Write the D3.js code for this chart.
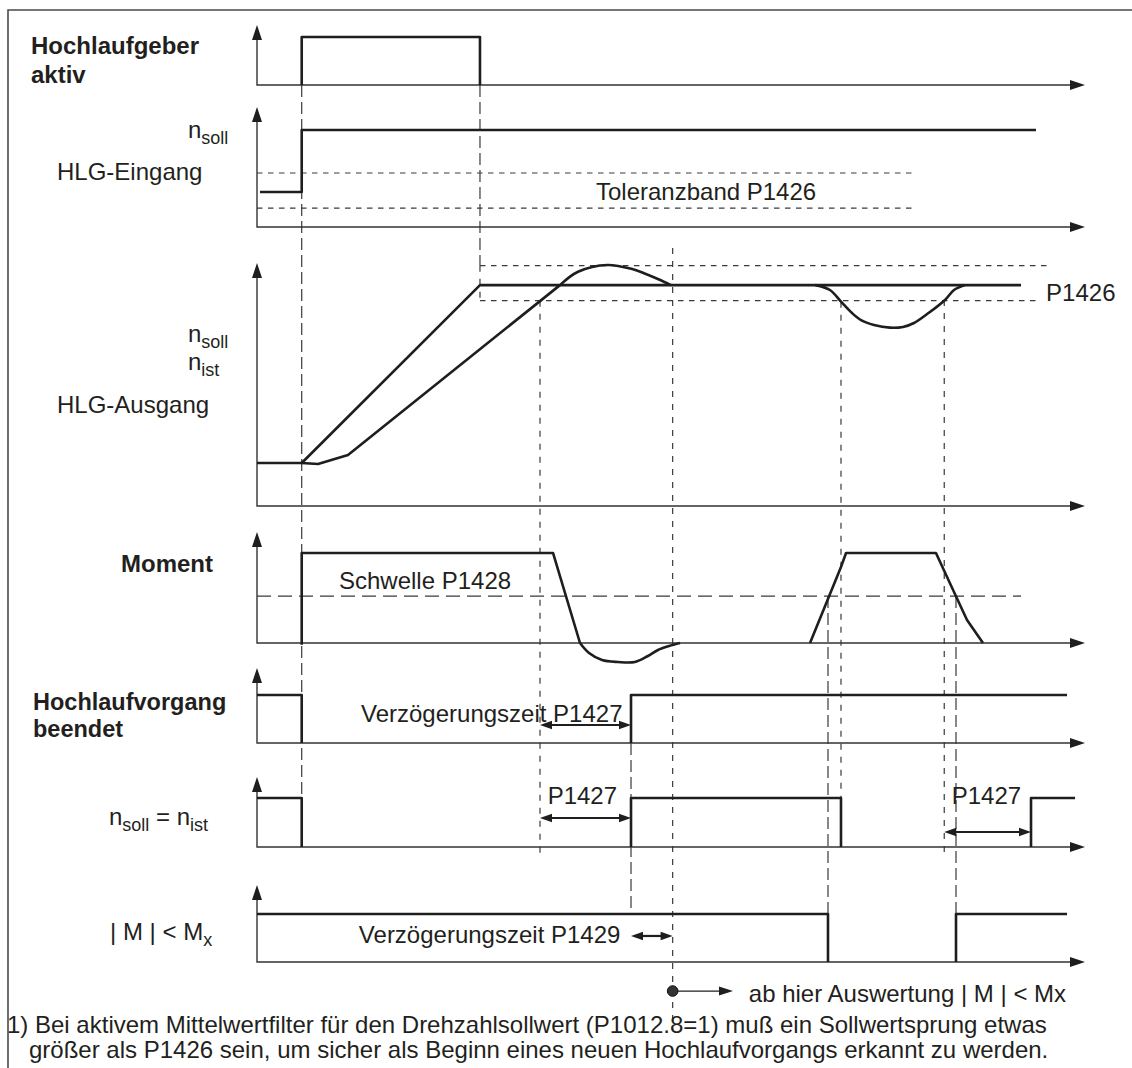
<!DOCTYPE html>
<html><head><meta charset="utf-8">
<script src="https://cdn.jsdelivr.net/npm/d3@7"></script>
<style>
body{margin:0;background:#fff}
text{font-family:"Liberation Sans",Arial,Helvetica,sans-serif;fill:#231f20}
</style>
</head><body>
<svg id="c" width="1132" height="1068" xmlns="http://www.w3.org/2000/svg"></svg>
<script>
// ---------------- DATA (time axis 0..100, each panel level 0..100) ----------------
const timeDomain = [0, 100];
const levelDomain = [0, 100];

// Panel 0: Hochlaufgeber aktiv
const aktivHigh = 80;
const aktivPulses = [{on: 5.4, off: 26.93, open: false}];

// Panel 1: HLG-Eingang (n_soll)
const eingangT = [0.36, 5.4, 5.4, 94.08];
const eingangV = [29.2, 29.2, 80.8, 80.8];
const tolBandV = [45, 15.8];
const tolBandT = [0, 79.1];

// Panel 2: HLG-Ausgang n_soll / n_ist
const sollT = [0, 5.4, 26.93, 92.27];
const sollV = [17.7, 17.7, 90.9, 90.9];
const istRampT = [5.4, 7.37, 10.99, 36.59];
const istRampV = [17.7, 17.3, 21.0, 90.9];
const istBumpT = [36.59, 38.77, 42.32, 45.41, 46.74, 48.49, 50.0];
const istBumpV = [90.9, 96.4, 99.2, 97.4, 95.8, 93.3, 90.9];
const istDipT = [67.44, 69.2, 70.53, 71.86, 72.95, 74.52, 76.45, 78.02, 79.35, 81.10, 83.09, 84.18, 85.51];
const istDipV = [90.9, 88.9, 84.1, 79.4, 76.5, 74.5, 73.4, 73.7, 75.3, 79.4, 84.8, 88.9, 90.9];
const ausgBandV = [98.9, 84.5];
const ausgBandStart = 26.93;
const ausgBandEnd = [95.9, 94.2];

// Panel 3: Moment
const momentT1 = [5.4, 5.4, 35.75, 39.01];
const momentV1 = [-1.5, 81.1, 81.1, 0];
const momentLobeT = [39.01, 40.10, 41.67, 43.6, 45.65, 47.22, 48.43, 49.76, 51.09];
const momentLobeV = [0, -9, -15.3, -17.1, -17.1, -11.7, -6.3, -2.7, 0];
const momentT2 = [66.79, 70.53, 71.14, 82.0, 84.18, 85.75, 87.68];
const momentV2 = [0, 68.5, 81.1, 81.1, 45.9, 20.7, 0];
const schwelleV = 42.3;
const schwelleT = [0, 92.27];

// Panel 4: Hochlaufvorgang beendet
const beendetHigh = 64;
const beendetPulses = [{on: 0, off: 5.4, open: false}, {on: 45.17, off: 97.83, open: true}];

// Panel 5: n_soll = n_ist
const gleichHigh = 70;
const gleichPulses = [{on: 0, off: 5.4, open: false}, {on: 45.17, off: 70.53, open: false}, {on: 93.48, off: 98.8, open: true}];

// Panel 6: |M| < Mx
const mxHigh = 62.3;
const mxPulses = [{on: 0, off: 68.96, open: false}, {on: 84.42, off: 97.83, open: true}];

// delay arrows (panel, from t, to t, level)
const delayArrows = [
  {p: 4, t0: 34.18, t1: 45.17, v: 24},
  {p: 5, t0: 34.18, t1: 45.17, v: 41.4},
  {p: 5, t0: 83.0, t1: 93.48, v: 21.4},
  {p: 6, t0: 45.17, t1: 50.2, v: 33.8}
];
const evalStart = {p: 6, t: 50.2, v: -37.7, tArrow: 57.49};

// vertical guide lines
const guides = [
  {t: 5.4,   p0: 0, v0: 0,     p1: 5, v1: 0,    long: true},
  {t: 26.93, p0: 0, v0: 0,     p1: 2, v1: 98.9, long: true},
  {t: 26.93, p0: 2, v0: 98.9,  p1: 2, v1: 84.5, long: false},
  {t: 34.18, p0: 2, v0: 84.5,  p1: 5, v1: -16,  long: false},
  {t: 50.2,  p0: 2, v0: 106.2, p1: 6, v1: -88,  long: false},
  {t: 70.53, p0: 2, v0: 84.1,  p1: 5, v1: 70,   long: false},
  {t: 83.0,  p0: 2, v0: 84.8,  p1: 5, v1: -16,  long: false},
  {t: 68.96, p0: 3, v0: 42.3,  p1: 6, v1: 0,    long: true},
  {t: 84.42, p0: 3, v0: 42.3,  p1: 6, v1: 0,    long: true},
  {t: 45.17, p0: 4, v0: 0,     p1: 6, v1: 62.3, long: true}
];

// ---------------- LAYOUT ----------------
const W = 1132, H = 1068;
const panelBase = [85, 227, 506, 643, 743, 847, 962];
const panelTop  = [25, 107, 263, 532, 668, 777, 885];
const FS = 24, SUB = 18;

const svg = d3.select('#c');
const x = d3.scaleLinear().domain(timeDomain).range([257, 1085]);
const ys = panelBase.map((b, i) => d3.scaleLinear().domain(levelDomain).range([b, panelTop[i]]));

const SIG = '#1e1e1e', AX = '#333';

// frame
svg.append('path').attr('d', `M8,${H} V10 H${W}`).attr('fill', 'none')
  .attr('stroke', '#4a4a4a').attr('stroke-width', 1.6);

function head(cx, cy, dir, len, hw) {
  let pts;
  if (dir === 'up') pts = [[cx, cy], [cx - hw, cy + len], [cx + hw, cy + len]];
  else if (dir === 'right') pts = [[cx, cy], [cx - len, cy - hw], [cx - len, cy + hw]];
  else pts = [[cx, cy], [cx + len, cy - hw], [cx + len, cy + hw]];
  svg.append('path').attr('d', 'M' + pts.join('L') + 'Z').attr('fill', SIG).attr('stroke', 'none');
}

// guides
guides.forEach(g => {
  svg.append('line')
    .attr('x1', x(g.t)).attr('x2', x(g.t))
    .attr('y1', ys[g.p0](g.v0)).attr('y2', ys[g.p1](g.v1))
    .attr('stroke', '#3a3a3a').attr('stroke-width', 1.2)
    .attr('stroke-dasharray', g.long ? '12,5' : '6,7');
});

// axes
panelBase.forEach((b, i) => {
  const y = ys[i];
  svg.append('path')
    .attr('d', `M${x(0)},${y(100) + 10} V${y(0)} H${x(100) - 10}`)
    .attr('fill', 'none').attr('stroke', AX).attr('stroke-width', 1.4);
  head(x(0), y(100), 'up', 15, 5);
  head(x(100), y(0), 'right', 15, 5);
});

function drawLine(p, pts, opts = {}) {
  const gen = d3.line().x(d => x(d[0])).y(d => ys[p](d[1])).curve(opts.curve || d3.curveLinear);
  return svg.append('path').attr('d', gen(pts)).attr('fill', 'none')
    .attr('stroke', opts.stroke || SIG).attr('stroke-width', opts.w || 2.6)
    .attr('stroke-dasharray', opts.dash || null)
    .attr('stroke-linejoin', 'round');
}
function drawPulses(p, pulses, high) {
  pulses.forEach(pl => {
    const pts = [];
    if (pl.on > 0) pts.push([pl.on, 0]);
    pts.push([pl.on, high], [pl.off, high]);
    if (!pl.open) pts.push([pl.off, 0]);
    drawLine(p, pts);
  });
}
const dashed = (p, pts, dash, w) => drawLine(p, pts, {dash: dash, w: w || 1.2, stroke: '#3a3a3a'});

// Panel 0
drawPulses(0, aktivPulses, aktivHigh);

// Panel 1
dashed(1, [[tolBandT[0], tolBandV[0]], [tolBandT[1], tolBandV[0]]], '5.5,5.5');
dashed(1, [[tolBandT[0], tolBandV[1]], [tolBandT[1], tolBandV[1]]], '5.5,5.5');
drawLine(1, d3.zip(eingangT, eingangV));

// Panel 2
dashed(2, [[ausgBandStart, ausgBandV[0]], [ausgBandEnd[0], ausgBandV[0]]], '5.5,5.5');
dashed(2, [[ausgBandStart, ausgBandV[1]], [ausgBandEnd[1], ausgBandV[1]]], '5.5,5.5');
drawLine(2, d3.zip(sollT, sollV));
drawLine(2, d3.zip(istRampT, istRampV));
drawLine(2, d3.zip(istBumpT, istBumpV), {curve: d3.curveCatmullRom});
drawLine(2, d3.zip(istDipT, istDipV), {curve: d3.curveCatmullRom});

// Panel 3
dashed(3, [[schwelleT[0], schwelleV], [schwelleT[1], schwelleV]], '14,7', 1.3);
drawLine(3, d3.zip(momentT1, momentV1));
drawLine(3, d3.zip(momentLobeT, momentLobeV), {curve: d3.curveCatmullRom});
drawLine(3, d3.zip(momentT2, momentV2));

// Panels 4-6
drawPulses(4, beendetPulses, beendetHigh);
drawPulses(5, gleichPulses, gleichHigh);
drawPulses(6, mxPulses, mxHigh);

// delay arrows
delayArrows.forEach(a => {
  const yy = ys[a.p](a.v), x0 = x(a.t0), x1 = x(a.t1);
  svg.append('line').attr('x1', x0 + 6).attr('x2', x1 - 6).attr('y1', yy).attr('y2', yy)
    .attr('stroke', SIG).attr('stroke-width', 2.2);
  head(x0, yy, 'left', 12, 4.2);
  head(x1, yy, 'right', 12, 4.2);
});

// evaluation start marker
{
  const yy = ys[evalStart.p](evalStart.v);
  svg.append('line').attr('x1', x(evalStart.t)).attr('x2', x(evalStart.tArrow) - 8)
    .attr('y1', yy).attr('y2', yy).attr('stroke', SIG).attr('stroke-width', 1.3);
  head(x(evalStart.tArrow), yy, 'right', 14, 4.5);
  svg.append('circle').attr('cx', x(evalStart.t)).attr('cy', yy).attr('r', 5.3)
    .attr('fill', '#333').attr('stroke', '#111').attr('stroke-width', 1);
}

// ---------------- TEXT ----------------
function label(px, py, parts, opts = {}) {
  const t = svg.append('text').attr('x', px).attr('y', py)
    .attr('font-size', opts.size || FS).attr('font-weight', opts.bold ? 'bold' : null)
    .attr('text-anchor', opts.anchor || 'start');
  let sub = false;
  parts.forEach(pt => {
    const isSub = typeof pt === 'object';
    const s = t.append('tspan').text(isSub ? pt.sub : pt);
    if (isSub && !sub) { s.attr('dy', 6).attr('font-size', SUB); sub = true; }
    else if (isSub) { s.attr('font-size', SUB); }
    else if (!isSub && sub) { s.attr('dy', -6); sub = false; }
  });
  return t;
}

// left labels
label(31, 54, ['Hochlaufgeber'], {bold: true});
label(31, 83, ['aktiv'], {bold: true});
label(188, 138, ['n', {sub: 'soll'}]);
label(57, 180, ['HLG-Eingang']);
label(188, 342, ['n', {sub: 'soll'}]);
label(188, 370, ['n', {sub: 'ist'}]);
label(57, 413, ['HLG-Ausgang']);
label(121, 572, ['Moment'], {bold: true});
label(33, 710, ['Hochlaufvorgang'], {bold: true, size: 23.5});
label(33, 737, ['beendet'], {bold: true, size: 23.5});
label(109, 825, ['n', {sub: 'soll'}, ' = n', {sub: 'ist'}]);
label(110, 940, ['| M | < M', {sub: 'x'}]);

// in-chart labels
label(x(40.94), 200, ['Toleranzband P1426']);
label(x(95.3), 301, ['P1426']);
label(x(9.9), 589, ['Schwelle P1428']);
label(x(12.56), 722, ['Verzögerungszeit P1427']);
label(x(35.1), 804, ['P1427']);
label(x(83.9), 804, ['P1427']);
label(x(12.3), 943, ['Verzögerungszeit P1429']);
label(x(59.4), 1002, ['ab hier Auswertung | M | < Mx']);

// footnote
label(7, 1033, ['1) Bei aktivem Mittelwertfilter für den Drehzahlsollwert (P1012.8=1) muß ein Sollwertsprung etwas']);
label(29, 1058, ['größer als P1426 sein, um sicher als Beginn eines neuen Hochlaufvorgangs erkannt zu werden.']);
</script>
</body></html>
